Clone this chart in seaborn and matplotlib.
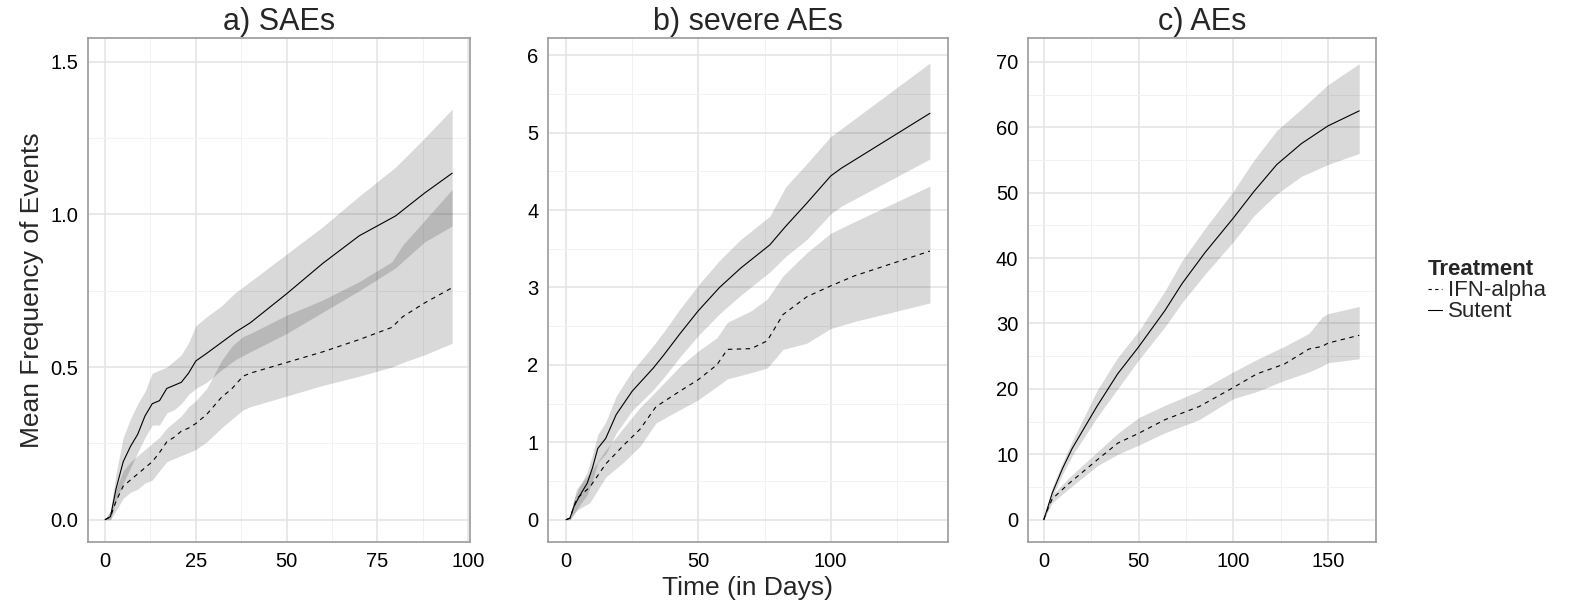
import matplotlib
matplotlib.use("Agg")
import matplotlib.pyplot as plt
import seaborn as sns
import pandas as pd
from matplotlib.ticker import MultipleLocator, AutoMinorLocator
from matplotlib.lines import Line2D

# a) SAEs
a_sut_t = [0, 1.5, 3, 5, 7, 9, 11, 13, 15, 17, 19, 21, 23, 25, 28, 32, 36, 40, 50, 60, 70, 80, 88, 95.6]
a_sut_m = [0, 0.01, 0.1, 0.19, 0.24, 0.28, 0.34, 0.38, 0.39, 0.43, 0.44, 0.45, 0.48, 0.52, 0.545, 0.58, 0.615, 0.645, 0.74, 0.84, 0.93, 0.995, 1.07, 1.135]
a_sut_hi = [0, 0.03, 0.15, 0.27, 0.33, 0.38, 0.42, 0.48, 0.49, 0.5, 0.52, 0.54, 0.58, 0.635, 0.665, 0.7, 0.745, 0.78, 0.87, 0.96, 1.06, 1.155, 1.25, 1.345]
a_sut_lo = [0, 0.0, 0.06, 0.12, 0.17, 0.22, 0.27, 0.31, 0.31, 0.35, 0.36, 0.38, 0.41, 0.43, 0.45, 0.49, 0.525, 0.55, 0.61, 0.68, 0.75, 0.825, 0.91, 0.962]
a_ifn_t = [0, 1.5, 3, 5, 7, 9, 11, 13, 15, 17, 19, 21, 23, 25, 28, 32, 35, 38, 40, 50, 60, 70, 79, 82, 88, 95.6]
a_ifn_m = [0, 0.01, 0.06, 0.11, 0.13, 0.15, 0.17, 0.19, 0.22, 0.255, 0.27, 0.29, 0.3, 0.315, 0.345, 0.4, 0.43, 0.47, 0.48, 0.515, 0.55, 0.59, 0.63, 0.665, 0.71, 0.76]
a_ifn_hi = [0, 0.03, 0.1, 0.16, 0.19, 0.21, 0.23, 0.25, 0.27, 0.3, 0.32, 0.34, 0.37, 0.39, 0.43, 0.52, 0.57, 0.6, 0.61, 0.67, 0.72, 0.78, 0.845, 0.9, 0.98, 1.082]
a_ifn_lo = [0, 0.0, 0.03, 0.07, 0.09, 0.1, 0.12, 0.13, 0.16, 0.19, 0.2, 0.21, 0.22, 0.23, 0.255, 0.3, 0.33, 0.36, 0.37, 0.405, 0.44, 0.47, 0.5, 0.515, 0.54, 0.578]

# b) severe AEs
b_sut_t = [0, 1.5, 3, 5, 8, 10, 12, 15, 19, 25, 33, 37, 43, 50, 58, 66, 77, 83, 91, 100, 104, 137.5]
b_sut_m = [0, 0.02, 0.17, 0.3, 0.47, 0.67, 0.92, 1.05, 1.36, 1.66, 1.96, 2.13, 2.4, 2.7, 3.0, 3.25, 3.55, 3.79, 4.09, 4.44, 4.54, 5.25]
b_sut_hi = [0, 0.06, 0.27, 0.42, 0.62, 0.84, 1.1, 1.26, 1.6, 1.92, 2.25, 2.43, 2.72, 3.03, 3.35, 3.62, 3.92, 4.3, 4.6, 4.95, 5.05, 5.9]
b_sut_lo = [0, 0.0, 0.07, 0.18, 0.32, 0.5, 0.74, 0.85, 1.12, 1.41, 1.68, 1.84, 2.1, 2.38, 2.66, 2.9, 3.2, 3.4, 3.62, 3.95, 4.05, 4.66]
b_ifn_t = [0, 1.5, 4, 9, 15, 22, 28, 34, 43, 50, 57, 61, 70, 76, 82, 91, 100, 109, 137.5]
b_ifn_m = [0, 0.02, 0.27, 0.42, 0.72, 0.97, 1.17, 1.46, 1.66, 1.81, 2.0, 2.2, 2.21, 2.31, 2.65, 2.88, 3.02, 3.15, 3.47]
b_ifn_hi = [0, 0.05, 0.4, 0.6, 0.9, 1.2, 1.45, 1.66, 1.98, 2.18, 2.35, 2.55, 2.7, 2.85, 3.15, 3.45, 3.7, 3.85, 4.31]
b_ifn_lo = [0, 0.0, 0.12, 0.22, 0.55, 0.75, 0.95, 1.25, 1.42, 1.55, 1.72, 1.82, 1.9, 1.96, 2.2, 2.28, 2.47, 2.56, 2.8]

# c) AEs
c_sut_t = [0, 1, 4.5, 10, 15, 28, 39, 50, 64, 73, 85, 100, 111, 123, 136, 150, 166.5]
c_sut_m = [0, 0.9, 4.1, 7.9, 10.9, 17.3, 22.3, 26.4, 32, 36.1, 40.8, 46.1, 50.2, 54.3, 57.5, 60.2, 62.5]
c_sut_hi = [0, 1.2, 5, 8.8, 12, 19.7, 24.8, 28.8, 35, 39.6, 44.5, 50.2, 55, 59.5, 62.8, 66.5, 69.7]
c_sut_lo = [0, 0.6, 3.5, 7, 9.8, 15.6, 20, 24.4, 29.5, 33.2, 37.5, 42.5, 46.5, 49.8, 52.5, 54.3, 56]
c_ifn_t = [0, 1, 4.5, 13.5, 28, 39, 50, 64, 82, 100, 112.5, 127, 140, 147, 150, 166.5]
c_ifn_m = [0, 0.9, 3.2, 5.6, 9.1, 11.7, 13.2, 15.3, 17.3, 20.2, 22.3, 23.8, 26.1, 26.5, 27, 28.2]
c_ifn_hi = [0, 1.2, 3.8, 6.5, 10.3, 13.2, 15.6, 17.5, 19.7, 22.6, 24.5, 26.5, 28.5, 31, 31.5, 32.6]
c_ifn_lo = [0, 0.6, 2.6, 4.8, 8.2, 10, 11.4, 13.3, 15.3, 18.5, 19.6, 21.3, 22.6, 23.5, 24.0, 24.6]

titles = ["a) SAEs", "b) severe AEs", "c) AEs"]
treatments = ["IFN-alpha", "Sutent"]

sns.set_style("white")
plt.rcParams["font.family"] = ["Liberation Sans", "DejaVu Sans"]

fig = plt.figure(figsize=(15.77, 6.02), dpi=100)
bottom, height = 0.0997, 0.8372
axes = [fig.add_axes([0.0558, bottom, 0.2422, height]),
        fig.add_axes([0.3475, bottom, 0.2536, height]),
        fig.add_axes([0.6519, bottom, 0.2207, height])]

panels = [
    (a_ifn_t, a_ifn_m, a_ifn_lo, a_ifn_hi, a_sut_t, a_sut_m, a_sut_lo, a_sut_hi),
    (b_ifn_t, b_ifn_m, b_ifn_lo, b_ifn_hi, b_sut_t, b_sut_m, b_sut_lo, b_sut_hi),
    (c_ifn_t, c_ifn_m, c_ifn_lo, c_ifn_hi, c_sut_t, c_sut_m, c_sut_lo, c_sut_hi),
]
xlims = [(-4.7, 100.5), (-6.8, 144.3), (-8.3, 175.4)]
ylims = [(-0.073, 1.578), (-0.288, 6.223), (-3.4, 73.64)]
xmajor = [25, 50, 50]
ymajor = [0.5, 1, 10]

for ax, p, title, xl, yl, xm, ym in zip(axes, panels, titles, xlims, ylims, xmajor, ymajor):
    it, im, ilo, ihi, st, sm, slo, shi = p
    ax.fill_between(it, ilo, ihi, color="black", alpha=0.15, linewidth=0)
    ax.fill_between(st, slo, shi, color="black", alpha=0.15, linewidth=0)
    df = pd.concat([
        pd.DataFrame({"time": it, "mean": im, "Treatment": "IFN-alpha"}),
        pd.DataFrame({"time": st, "mean": sm, "Treatment": "Sutent"}),
    ])
    sns.lineplot(data=df, x="time", y="mean", style="Treatment",
                 dashes={"IFN-alpha": (4, 4), "Sutent": ""},
                 color="black", linewidth=0.8, legend=False, ax=ax)
    ax.set_xlim(xl)
    ax.set_ylim(yl)
    ax.xaxis.set_major_locator(MultipleLocator(xm))
    ax.yaxis.set_major_locator(MultipleLocator(ym))
    ax.xaxis.set_minor_locator(AutoMinorLocator(2))
    ax.yaxis.set_minor_locator(AutoMinorLocator(2))
    ax.grid(which="major", color="#e3e3e3", linewidth=1.1, zorder=0)
    ax.grid(which="minor", color="#f2f2f2", linewidth=0.7, zorder=0)
    ax.set_axisbelow(True)
    for s in ax.spines.values():
        s.set_color("#9a9a9a")
        s.set_linewidth(1.2)
    ax.tick_params(which="major", length=4, width=0.9, color="#333333",
                   labelsize=14.5, labelcolor="black", pad=3)
    ax.tick_params(which="minor", length=0)
    ax.set_title(title, fontsize=22, pad=6)
    ax.set_xlabel("")
    ax.set_ylabel("")

axes[0].set_ylabel("Mean Frequency of Events", fontsize=19, labelpad=4.5)
axes[1].set_xlabel("Time (in Days)", fontsize=19, labelpad=3.5)

handles = [Line2D([], [], color="black", linewidth=0.8, dashes=(3, 3)),
           Line2D([], [], color="black", linewidth=0.8)]
leg = fig.legend(handles, treatments, loc="upper left", bbox_to_anchor=(0.9055, 0.569),
                 title="Treatment", fontsize=16, title_fontsize=16, frameon=False,
                 handlelength=0.65, handletextpad=0.27, labelspacing=0.0,
                 borderpad=0, borderaxespad=0, alignment="left")
leg.get_title().set_fontweight("bold")

fig.savefig("out.png", dpi=100)
